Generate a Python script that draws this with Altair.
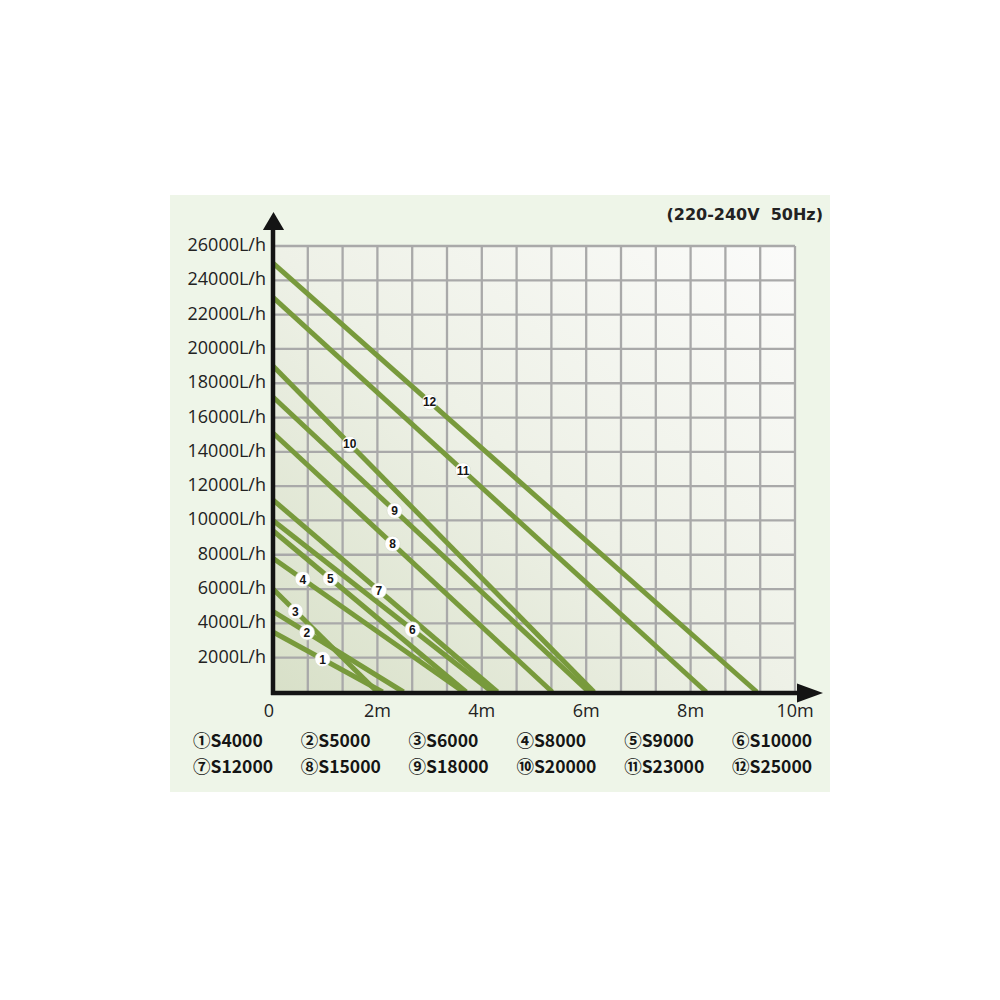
import altair as alt
import pandas as pd

# ---------------- data ----------------
models = ["S4000", "S5000", "S6000", "S8000", "S9000", "S10000",
          "S12000", "S15000", "S18000", "S20000", "S23000", "S25000"]
curve_no = ["1", "2", "3", "4", "5", "6", "7", "8", "9", "10", "11", "12"]
flow_at_zero_head = [3500, 4700, 6000, 7800, 9400, 10000,
                     11200, 15100, 17200, 19000, 23000, 25000]   # L/h
max_head = [2.1, 2.5, 2.0, 3.65, 3.7, 4.2,
            4.3, 5.35, 6.05, 6.15, 8.3, 9.27]                  # m
label_head = [0.95, 0.65, 0.43, 0.57, 1.10, 2.67,
              2.03, 2.29, 2.33, 1.47, 3.64, 3.0]               # where the number sits
legend_labels = ["①S4000", "②S5000", "③S6000", "④S8000", "⑤S9000", "⑥S10000",
                 "⑦S12000", "⑧S15000", "⑨S18000", "⑩S20000", "⑪S23000", "⑫S25000"]
x_tick_values = [0, 2, 4, 6, 8, 10]
x_tick_text = ["0", "2m", "4m", "6m", "8m", "10m"]
y_tick_values = [2000, 4000, 6000, 8000, 10000, 12000, 14000,
                 16000, 18000, 20000, 22000, 24000, 26000]
y_tick_text = [f"{v}L/h" for v in y_tick_values]
x_grid_values = [2 / 3 * i for i in range(1, 16)]
y_grid_values = y_tick_values
supply_text = "(220-240V\u00a0\u00a050Hz)"

# ---------------- tables ----------------
rows = []
for m, q, h in zip(models, flow_at_zero_head, max_head):
    rows.append({"model": m, "head": 0.0, "flow": q})
    rows.append({"model": m, "head": h, "flow": 0.0})
lines_df = pd.DataFrame(rows)

lab_rows = []
for m, n, q, h, lx in zip(models, curve_no, flow_at_zero_head, max_head, label_head):
    lab_rows.append({"model": m, "num": n, "head": lx, "flow": q * (1 - lx / h)})
labels_df = pd.DataFrame(lab_rows)

legend_df = pd.DataFrame({
    "label": legend_labels,
    "col": [i % 6 for i in range(len(legend_labels))],
    "row": [i // 6 for i in range(len(legend_labels))],
})
xt_df = pd.DataFrame({"v": x_tick_values, "t": x_tick_text})
yt_df = pd.DataFrame({"v": y_tick_values, "t": y_tick_text})
one = pd.DataFrame({"a": [0]})

W, H = 522, 446
GREEN = "#789a3c"
GRID = "#a9a9a9"
INK = "#141414"
TXT = "#222222"

xs = alt.Scale(domain=[0, 10], nice=False, zero=False)
ys = alt.Scale(domain=[0, 26000], nice=False, zero=False)

panel = alt.Chart(one).mark_rect(color="#eef5e8").encode(
    x=alt.value(-103), x2=alt.value(557), y=alt.value(-51), y2=alt.value(546))

plot_bg = alt.Chart(one).mark_rect(
    color=alt.Gradient(
        gradient="linear", x1=0, y1=1, x2=1, y2=0,
        stops=[alt.GradientStop(offset=0, color="#d8e0c8"),
               alt.GradientStop(offset=0.5, color="#eef1e7"),
               alt.GradientStop(offset=1, color="#fbfbfa")])
).encode(x=alt.value(0), x2=alt.value(W), y=alt.value(0), y2=alt.value(H))

vgrid = alt.Chart(pd.DataFrame({"g": x_grid_values})).mark_rule(
    color=GRID, strokeWidth=2.3).encode(x=alt.X("g:Q", scale=xs, axis=None))
hgrid = alt.Chart(pd.DataFrame({"g": y_grid_values})).mark_rule(
    color=GRID, strokeWidth=2.3).encode(y=alt.Y("g:Q", scale=ys, axis=None))

curves = alt.Chart(lines_df).mark_line(
    color=GREEN, strokeWidth=5, strokeCap="butt").encode(
    x=alt.X("head:Q", scale=xs, axis=None),
    y=alt.Y("flow:Q", scale=ys, axis=None),
    detail="model:N",
)

dots = alt.Chart(labels_df).mark_point(
    shape="circle", filled=True, fill="white", opacity=1, size=235,
    stroke="#d5dbcb", strokeWidth=0.6).encode(
    x=alt.X("head:Q", scale=xs, axis=None),
    y=alt.Y("flow:Q", scale=ys, axis=None),
)
nums = alt.Chart(labels_df).mark_text(
    font="Liberation Sans", fontSize=12, fontWeight="bold", color=INK,
    baseline="middle", align="center", dy=0.5).encode(
    x=alt.X("head:Q", scale=xs, axis=None),
    y=alt.Y("flow:Q", scale=ys, axis=None),
    text="num:N",
)

# tick labels (through the chart's scales)
y_labels = alt.Chart(yt_df).mark_text(
    font="Open Sans", fontSize=18, color=TXT, align="right", baseline="middle").encode(
    x=alt.value(-7),
    y=alt.Y("v:Q", scale=ys, axis=None),
    text="t:N",
)
x_labels = alt.Chart(xt_df).transform_filter("datum.v > 0").mark_text(
    font="Open Sans", fontSize=18, color=TXT, align="center", baseline="middle").encode(
    x=alt.X("v:Q", scale=xs, axis=None),
    y=alt.value(466),
    text="t:N",
)
x_zero = alt.Chart(xt_df).transform_filter("datum.v == 0").mark_text(
    font="Open Sans", fontSize=18, color=TXT, align="right", baseline="middle", dx=1).encode(
    x=alt.X("v:Q", scale=xs, axis=None),
    y=alt.value(466),
    text="t:N",
)

y_line = alt.Chart(one).mark_rule(color=INK, strokeWidth=4.5).encode(
    x=alt.value(0), y=alt.value(-16), y2=alt.value(449))
x_line = alt.Chart(one).mark_rule(color=INK, strokeWidth=4.5).encode(
    x=alt.value(-2), x2=alt.value(526), y=alt.value(447))
y_arrow = alt.Chart(one).mark_point(
    shape="M0,-0.86L1,0.86L-1,0.86Z", filled=True, color=INK, opacity=1, size=450
).encode(x=alt.value(0.5), y=alt.value(-25))
x_arrow = alt.Chart(one).mark_point(
    shape="M-1,-0.73L1,0L-1,0.73Z", filled=True, color=INK, opacity=1, size=676
).encode(x=alt.value(537), y=alt.value(447))

supply = alt.Chart(one).mark_text(
    text=supply_text, font="DejaVu Sans", fontSize=16, fontWeight="bold",
    color=TXT, align="right", baseline="middle").encode(
    x=alt.value(550), y=alt.value(-31))

main = alt.layer(panel, plot_bg, vgrid, hgrid, curves, dots, nums,
                 y_line, x_line, y_arrow, x_arrow, y_labels, x_labels, x_zero, supply)

legend = alt.Chart(legend_df).mark_text(
    font="Noto Sans CJK SC", fontSize=17.5, fontWeight="bold", color="#151515",
    align="left", baseline="middle").encode(
    x=alt.X("col:Q", scale=alt.Scale(domain=[0, 5], range=[-80, 459]), axis=None),
    y=alt.Y("row:Q", scale=alt.Scale(domain=[0, 1], range=[496, 522]), axis=None),
    text="label:N",
)

chart = alt.layer(main, legend).resolve_scale(
    x="independent", y="independent"
).properties(
    width=W, height=H,
    autosize=alt.AutoSizeParams(type="none"),
    padding={"left": 265, "top": 238, "right": 190, "bottom": 300},
    background="white",
).configure_view(stroke=None)

chart.save("out.html", embed_options={"renderer": "svg", "actions": False})
